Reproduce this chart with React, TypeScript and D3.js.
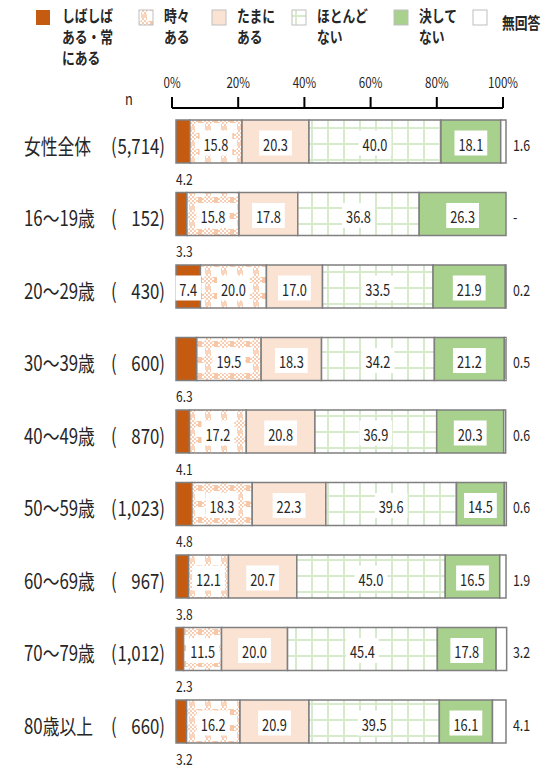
import React from 'react';
import * as d3 from 'd3';

const categories = ['女性全体', '16～19歳', '20～29歳', '30～39歳', '40～49歳', '50～59歳', '60～69歳', '70～79歳', '80歳以上'];
const nValues = [5714, 152, 430, 600, 870, 1023, 967, 1012, 660];
const seriesKeys = ['often', 'sometimes', 'occasionally', 'rarely', 'never', 'noAnswer'];
const legendLines = [['しばしば', 'ある・常', 'にある'], ['時々', 'ある'], ['たまに', 'ある'], ['ほとんど', 'ない'], ['決して', 'ない'], ['無回答']];
const often = [4.2, 3.3, 7.4, 6.3, 4.1, 4.8, 3.8, 2.3, 3.2];
const sometimes = [15.8, 15.8, 20.0, 19.5, 17.2, 18.3, 12.1, 11.5, 16.2];
const occasionally = [20.3, 17.8, 17.0, 18.3, 20.8, 22.3, 20.7, 20.0, 20.9];
const rarely = [40.0, 36.8, 33.5, 34.2, 36.9, 39.6, 45.0, 45.4, 39.5];
const never = [18.1, 26.3, 21.9, 21.2, 20.3, 14.5, 16.5, 17.8, 16.1];
const noAnswer = [1.6, 0, 0.2, 0.5, 0.6, 0.6, 1.9, 3.2, 4.1];
const noAnswerLabels = ['1.6', '-', '0.2', '0.5', '0.6', '0.6', '1.9', '3.2', '4.1'];
const axisTicks = [0, 20, 40, 60, 80, 100];

const FILLS = ['#C55A11', 'url(#tokidoki)', '#FBE3D4', 'url(#grid)', '#A9D18E', '#FFFFFF'];
const FONT = "'Noto Sans CJK JP', 'Noto Sans', sans-serif";
const TXT = '#262626';

const table = categories.map((c, i) => ({
  cat: c,
  often: often[i],
  sometimes: sometimes[i],
  occasionally: occasionally[i],
  rarely: rarely[i],
  never: never[i],
  noAnswer: noAnswer[i],
}));

function T({ x, y, size, anchor = 'start', children, base = 'central', sx = 0.8, weight = 400 }: any) {
  return (
    <text
      transform={`translate(${x},${y}) scale(${sx},1)`}
      fontSize={size}
      textAnchor={anchor}
      dominantBaseline={base}
      fontFamily={FONT}
      fontWeight={weight}
      fill={TXT}
    >
      {children}
    </text>
  );
}

function labelWidth(s: string, size: number) {
  let w = 0;
  for (const ch of s) w += ch === '.' ? 0.27 : 0.555;
  return w * size * 0.8;
}

export default function App() {
  const x = d3.scaleLinear().domain([0, 100]).range([176, 506]);
  const xAxis = d3.scaleLinear().domain([0, 100]).range([172, 503]);
  const y = d3.scaleBand<string>().domain(categories).range([105.25, 757.75]).paddingInner(0.407).paddingOuter(0.2035);
  const stack = d3.stack<any>().keys(seriesKeys);
  const series = stack(table as any);
  const bw = y.bandwidth();

  const legendSwatchX = [36, 139, 212, 292, 394, 473];
  const legendTextX = [62, 164, 237, 317, 419, 502];

  return (
    <svg width={560} height={770} style={{ position: 'absolute', left: 0, top: 0, background: '#fff' }}>
      <defs>
        <pattern id="dots" width={4} height={4} patternUnits="userSpaceOnUse">
          <rect width={4} height={4} fill="#FFFFFF" />
          <rect width={2} height={2} fill="#F8CDB1" />
          <rect x={2} y={2} width={2} height={2} fill="#F8CDB1" />
        </pattern>
        <pattern id="tokidoki" width={16} height={16} patternUnits="userSpaceOnUse" x={176} y={120}>
          <rect width={16} height={16} fill="url(#dots)" />
          <rect x={3} y={3} width={10} height={10} fill="#FFFFFF" />
          <rect x={6} y={0} width={4} height={3} fill="#F7C8A8" />
          <rect x={6} y={13} width={4} height={3} fill="#F7C8A8" />
          <rect x={0} y={6} width={3} height={4} fill="#F9D5BD" />
          <rect x={13} y={6} width={3} height={4} fill="#F9D5BD" />
        </pattern>
        <pattern id="grid" width={16} height={16} patternUnits="userSpaceOnUse" x={176} y={120}>
          <rect width={16} height={16} fill="#FFFFFF" />
          <rect x={7} y={0} width={2} height={16} fill="#D7EACB" />
          <rect x={0} y={7} width={16} height={2} fill="#D7EACB" />
        </pattern>
      </defs>

      {/* legend */}
      {legendLines.map((lines, i) => (
        <g key={i}>
          <rect
            x={legendSwatchX[i]}
            y={10}
            width={14}
            height={15}
            fill={FILLS[i]}
            stroke={i === 0 ? 'none' : '#BFBFBF'}
            strokeWidth={1}
          />
          {lines.length === 1 ? (
            <T x={legendTextX[i]} y={22} size={16} weight={700}>{lines[0]}</T>
          ) : (
            lines.map((l, j) => (
              <T key={j} x={legendTextX[i]} y={15 + j * 21} size={16} weight={700}>{l}</T>
            ))
          )}
        </g>
      ))}

      {/* axis */}
      <line x1={xAxis(0)} x2={xAxis(100)} y1={108} y2={108} stroke="#000" strokeWidth={2} />
      {axisTicks.map((t) => (
        <g key={t}>
          <line x1={xAxis(t)} x2={xAxis(t)} y1={97} y2={108} stroke="#000" strokeWidth={2} />
          <T x={xAxis(t)} y={82} size={14.5} anchor="middle">{`${t}%`}</T>
        </g>
      ))}
      <T x={129} y={98} size={16} anchor="middle">n</T>

      {/* row labels */}
      {categories.map((c, i) => {
        const cy = (y(c) as number) + bw / 2 + 3;
        return (
          <g key={c}>
            <T x={24} y={cy} size={21}>{c}</T>
            <T x={111} y={cy} size={21}>(</T>
            <T x={165} y={cy} size={21} anchor="end">{`${d3.format(',')(nValues[i])})`}</T>
          </g>
        );
      })}

      {/* bars */}
      {series.map((s, si) => (
        <g key={s.key}>
          {s.map((d, i) => {
            const w = x(d[1]) - x(d[0]);
            if (w <= 0) return null;
            return (
              <rect
                key={i}
                x={x(d[0])}
                y={y(categories[i]) as number}
                width={w}
                height={bw}
                fill={FILLS[si]}
                stroke="#7F7F7F"
                strokeWidth={1.5}
              />
            );
          })}
        </g>
      ))}

      {/* labels */}
      {series.map((s, si) =>
        s.map((d, i) => {
          const v = d[1] - d[0];
          const top = y(categories[i]) as number;
          const cy = top + bw / 2 + 1.5;
          if (si === 5) {
            return (
              <T key={`l${si}-${i}`} x={x(100) + 7} y={top + bw / 2 + 2.5} size={15.5}>{noAnswerLabels[i]}</T>
            );
          }
          const txt = v.toFixed(1);
          if (si === 0 && v < 7) {
            return (
              <T key={`l${si}-${i}`} x={x(0)} y={top + bw + 15} size={15}>{txt}</T>
            );
          }
          const cx = (x(d[0]) + x(d[1])) / 2;
          const tw = labelWidth(txt, 16);
          return (
            <g key={`l${si}-${i}`}>
              <rect x={cx - tw / 2 - 4} y={cy - 12.5} width={tw + 8} height={25} fill="#FFFFFF" />
              <T x={cx} y={cy + 0.5} size={16} anchor="middle">{txt}</T>
            </g>
          );
        })
      )}
    </svg>
  );
}
